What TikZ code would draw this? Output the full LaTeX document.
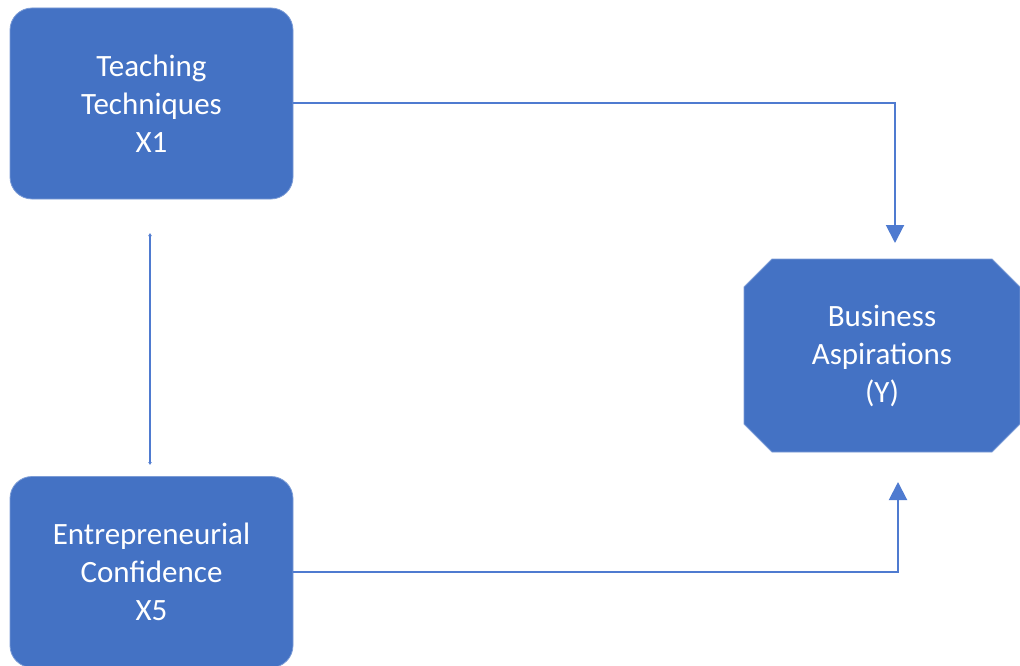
\documentclass[tikz,border=0pt]{standalone}
\usepackage{fontspec}
\setmainfont{Carlito}
\usetikzlibrary{shapes.misc,arrows.meta}
\definecolor{boxblue}{HTML}{4472C4}
\definecolor{edgeblue}{HTML}{4F7BD0}
\begin{document}
\begin{tikzpicture}[x=1pt,y=-1pt,
  varbox/.style={fill=boxblue, draw=boxblue!70!white, line width=0.8pt, rounded corners=22pt,
    minimum width=283pt, minimum height=191pt, inner sep=0pt, text=white, align=center,
    font=\fontsize{31pt}{38pt}\selectfont},
  outbox/.style={chamfered rectangle, chamfered rectangle xsep=14pt, chamfered rectangle ysep=14pt,
    fill=boxblue, draw=boxblue!70!white, line width=0.8pt,
    minimum width=276pt, minimum height=193pt, inner sep=0pt, text=white, align=center,
    font=\fontsize{31pt}{38pt}\selectfont},
  conn/.style={draw=edgeblue, line width=2pt},
  arr/.style={conn, -{Triangle[width=18pt,length=18pt]}},
  thin/.style={draw=edgeblue, line width=2pt, {Latex[length=3pt,width=4pt]}-{Latex[length=3pt,width=4pt]}}
]
\useasboundingbox (0,0) rectangle (1020,666);
\node[varbox] (tt) at (151.5,103.5) {Teaching\\Techniques\\X1};
\node[varbox] (ec) at (151.5,572) {Entrepreneurial\\Confidence\\X5};
\node[outbox] (ba) at (882,355.5) {Business\\Aspirations\\(Y)};
\coordinate (tipA) at (895,243);
\coordinate (tipB) at (898,482);
\coordinate (vtop) at (150,233);
\coordinate (vbot) at (150,465);
\draw[arr] (tt.east) -| (tipA);
\draw[arr] (ec.east) -| (tipB);
\draw[thin] (vtop) -- (vbot);
\end{tikzpicture}
\end{document}
